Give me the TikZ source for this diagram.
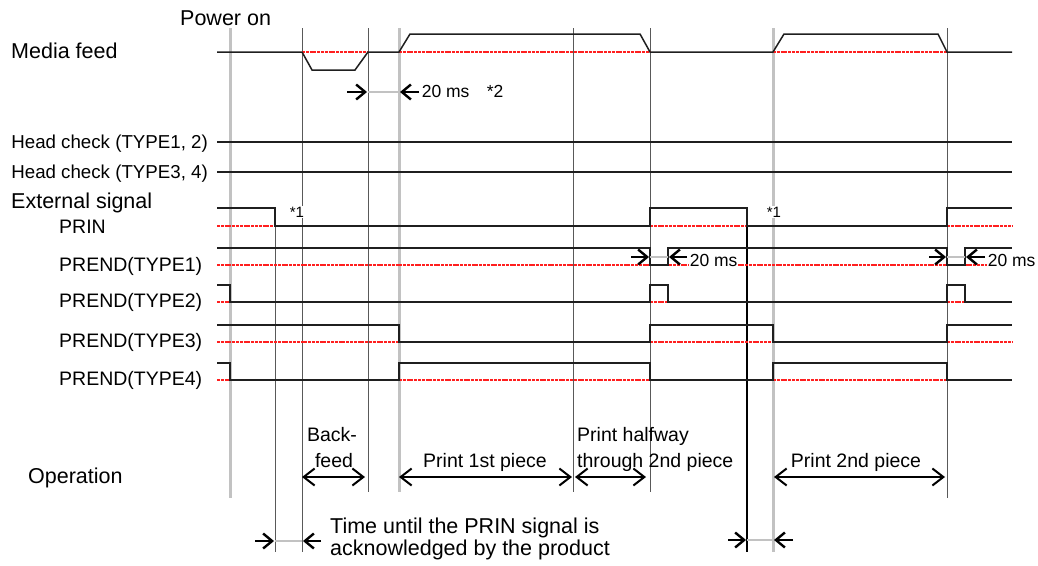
\documentclass[tikz,border=0pt]{standalone}
\usepackage{fontspec}
\setmainfont{Liberation Sans}
\usepackage{xcolor}
\usetikzlibrary{arrows.meta}
\definecolor{sigblack}{rgb}{0.12, 0.12, 0.12}
\definecolor{markgray}{rgb}{0.35, 0.35, 0.35}
\definecolor{bandgray}{rgb}{0.76, 0.76, 0.76}
\definecolor{lowred}{rgb}{1.00, 0.12, 0.12}

\begin{document}
\begin{tikzpicture}[
  x=1pt, y=-1pt,
  biglbl/.style={font=\fontsize{21.5}{23}\selectfont, inner sep=0pt, anchor=base west},
  siglbl/.style={font=\fontsize{19.5}{21}\selectfont, inner sep=0pt, anchor=base west},
  hdlbl/.style={font=\fontsize{18.7}{20}\selectfont, inner sep=0pt, anchor=base east},
  oplbl/.style={font=\fontsize{19.5}{21}\selectfont, inner sep=0pt, anchor=base},
  mslbl/.style={font=\fontsize{17.5}{19}\selectfont, inner sep=0.6pt, anchor=base west, fill=white},
  notelbl/.style={font=\fontsize{15}{16}\selectfont, inner sep=0.6pt, anchor=base west, fill=white},
  wave/.style={draw=sigblack, line width=1.5pt},
  lowlvl/.style={draw=lowred, line width=1.3pt, dash pattern=on 3pt off 0.8pt},
  thinmark/.style={draw=markgray, line width=1pt},
  bandmark/.style={draw=bandgray, line width=3pt},
  prinmark/.style={draw=black, line width=1.8pt},
  gapline/.style={draw=bandgray, line width=1.5pt},
  dimarr/.style={-{Straight Barb[length=9pt, width=15pt, line width=2.4pt]}, line width=2pt},
  oparr/.style={{Straight Barb[length=11pt, width=17pt, line width=2pt]}-{Straight Barb[length=11pt, width=17pt, line width=2pt]}, line width=1.6pt}
]
  \useasboundingbox (0,0) rectangle (1038,565);

  % Time marks
  \foreach \tx in {230, 399} \draw[bandmark] (\tx,28) -- (\tx,492);
  \draw[bandmark] (230,492) -- (230,498);
  \draw[bandmark] (773,28) -- (773,552);
  \foreach \tx/\ya/\yb in {275/208/552, 302/28/552, 368/28/492, 573/28/492, 650/28/492, 947/28/498}
    \draw[thinmark] (\tx,\ya) -- (\tx,\yb);
  \draw[prinmark] (747,208) -- (747,552);

  % Low levels (red)
  \draw[lowlvl] (302,52) -- (368,52) (399,52) -- (650,52) (773,52) -- (947,52);
  \draw[lowlvl] (217,226) -- (275,226) (650,226) -- (747,226) (947,226) -- (1012,226);
  \draw[lowlvl] (217,265) -- (1012,265);
  \draw[lowlvl] (217,302) -- (230,302) (650,302) -- (668,302) (947,302) -- (965,302);
  \draw[lowlvl] (217,342) -- (399,342) (650,342) -- (773,342) (947,342) -- (1012,342);
  \draw[lowlvl] (217,380) -- (230,380) (399,380) -- (650,380) (773,380) -- (947,380);

  % Notes over lines
  \node[notelbl] (note1a) at (289,217) {*1};
  \node[notelbl] (note1b) at (766,217) {*1};
  \node[mslbl] (ms1) at (689,266) {20 ms};
  \node[mslbl] (ms2) at (987,266) {20 ms};

  % Signals
  \draw[wave] (217,52) -- (302,52) -- (312,70) -- (355,70) -- (368,52) -- (399,52) -- (410,34)
        -- (640,34) -- (650,52) -- (773,52) -- (784,34) -- (938,34) -- (947,52) -- (1012,52);
  \draw[wave] (217,142) -- (1012,142);
  \draw[wave] (217,172) -- (1012,172);
  \draw[wave] (217,208) -- (275,208) -- (275,226) -- (650,226) -- (650,208) -- (747,208)
        -- (747,226) -- (947,226) -- (947,208) -- (1012,208);
  \draw[wave] (217,248) -- (650,248) -- (650,265) -- (668,265) -- (668,248) -- (947,248)
        -- (947,265) -- (965,265) -- (965,248) -- (1012,248);
  \draw[wave] (217,285) -- (230,285) -- (230,302) -- (650,302) -- (650,285) -- (668,285)
        -- (668,302) -- (947,302) -- (947,285) -- (965,285) -- (965,302) -- (1012,302);
  \draw[wave] (217,325) -- (399,325) -- (399,342) -- (650,342) -- (650,325) -- (773,325)
        -- (773,342) -- (947,342) -- (947,325) -- (1012,325);
  \draw[wave] (217,363) -- (230,363) -- (230,380) -- (399,380) -- (399,363) -- (650,363)
        -- (650,380) -- (773,380) -- (773,363) -- (947,363) -- (947,380) -- (1012,380);

  % Row labels
  \node[biglbl] (poweron) at (180,25) {Power on};
  \node[biglbl] (media) at (11,58) {Media feed};
  \node[hdlbl] (head12) at (208,148) {Head check (TYPE1, 2)};
  \node[hdlbl] (head34) at (208,178) {Head check (TYPE3, 4)};
  \node[biglbl] (ext) at (11,208) {External signal};
  \node[siglbl] (prin) at (59,233) {PRIN};
  \node[siglbl] (prend1) at (59,271) {PREND(TYPE1)};
  \node[siglbl] (prend2) at (59,307) {PREND(TYPE2)};
  \node[siglbl] (prend3) at (59,347) {PREND(TYPE3)};
  \node[siglbl] (prend4) at (59,385) {PREND(TYPE4)};
  \node[biglbl] (oper) at (28,483) {Operation};

  % 20 ms gaps
  \draw[gapline] (368,92) -- (399,92);
  \draw[dimarr] (347,92) -- (367,92);
  \draw[dimarr] (419,92) -- (400,92);
  \node[mslbl, fill=none] (ms0) at (421,97) {20 ms\quad*2};
  \draw[gapline] (650,257) -- (668,257);
  \draw[dimarr] (631,257) -- (649,257);
  \draw[dimarr] (687,257) -- (669,257);
  \draw[gapline] (947,257) -- (965,257);
  \draw[dimarr] (929,257) -- (946,257);
  \draw[dimarr] (985,257) -- (966,257);

  % Operation
  \node[oplbl] (back1) at (332,441) {Back-};
  \node[oplbl] (back2) at (334,467) {feed};
  \draw[oparr] (302,477) -- (365,477);
  \node[oplbl] (first) at (485,467) {Print 1st piece};
  \draw[oparr] (399,477) -- (572,477);
  \node[siglbl] (half1) at (577,441) {Print halfway};
  \node[siglbl] (half2) at (577,467) {through 2nd piece};
  \draw[oparr] (575,477) -- (646,477);
  \node[oplbl] (second) at (856,467) {Print 2nd piece};
  \draw[oparr] (774,477) -- (945,477);

  % PRIN acknowledge time
  \draw[gapline] (275,541) -- (302,541);
  \draw[dimarr] (255,541) -- (274,541);
  \draw[dimarr] (321,541) -- (303,541);
  \draw[gapline] (747,540) -- (773,540);
  \draw[dimarr] (728,540) -- (746,540);
  \draw[dimarr] (793,540) -- (774,540);
  \node[biglbl] (ack1) at (330,533) {Time until the PRIN signal is};
  \node[biglbl] (ack2) at (330,555) {acknowledged by the product};
\end{tikzpicture}
\end{document}
